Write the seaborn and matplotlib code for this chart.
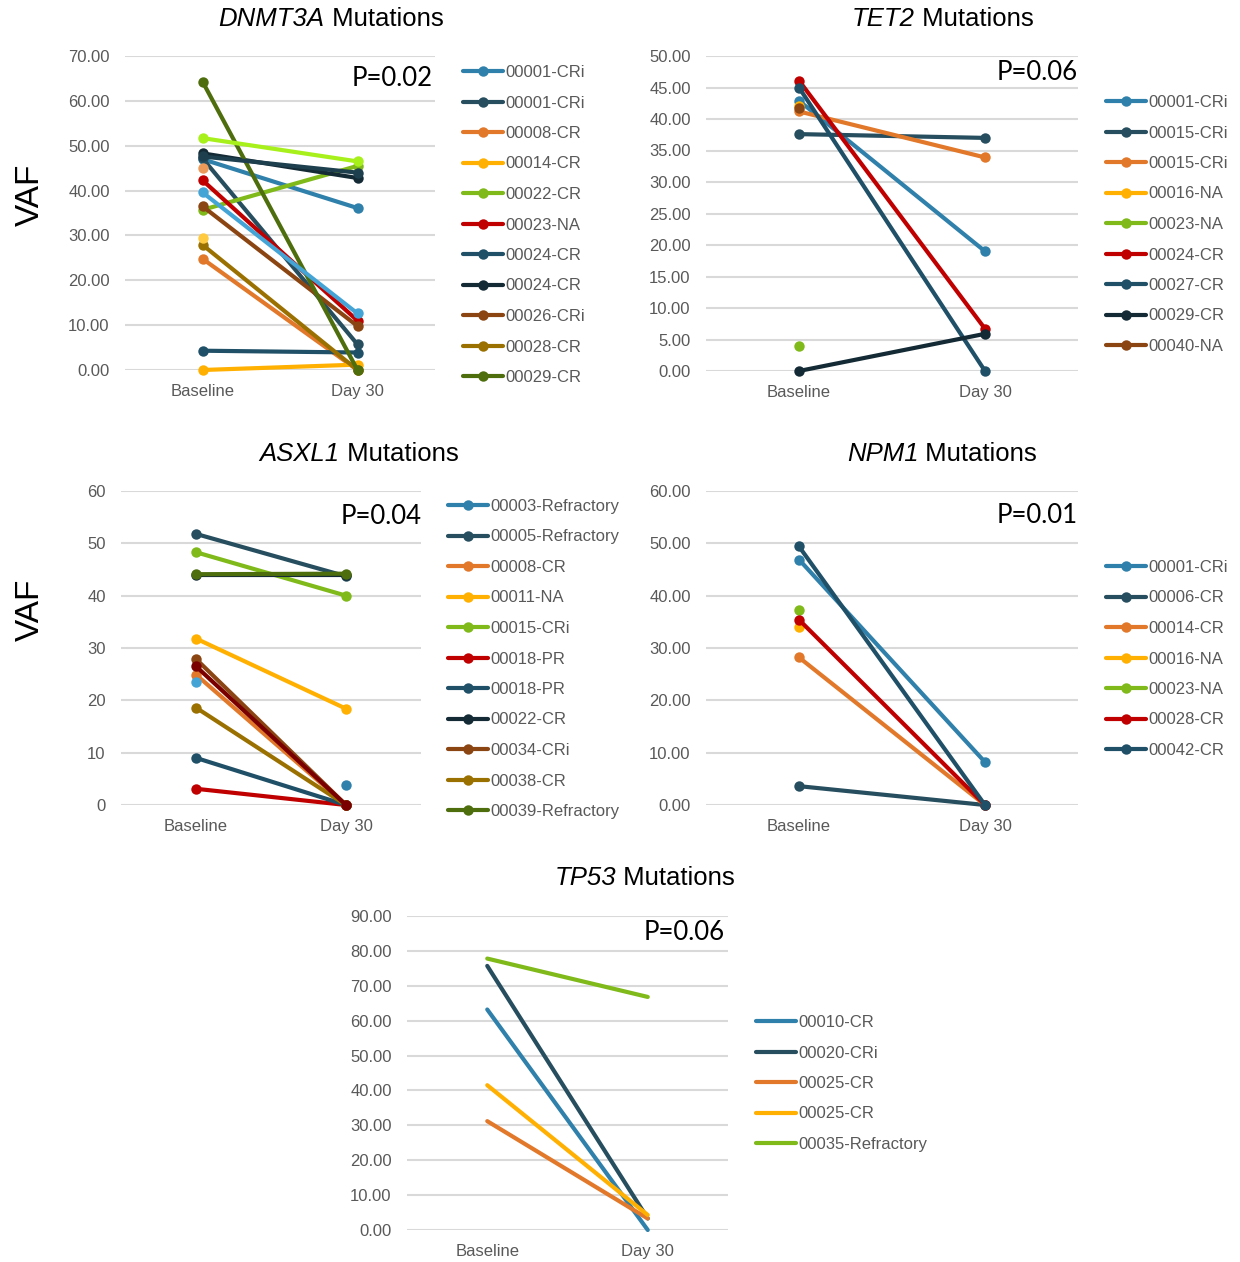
import numpy as np
import pandas as pd
import matplotlib
matplotlib.use("Agg")
import matplotlib.pyplot as plt
import seaborn as sns

# ---------------- data ----------------
categories = ["Baseline", "Day 30"]

dnmt3a_labels = ["00001-CRi", "00001-CRi", "00008-CR", "00014-CR", "00022-CR", "00023-NA",
                 "00024-CR", "00024-CR", "00026-CRi", "00028-CR", "00029-CR",
                 "_x1", "_x2", "_x3", "_x4", "_x5"]
dnmt3a_base = [47.0, 47.2, 24.8, 0.0, 35.7, 42.3, 4.3, 48.3, 36.5, 27.9, 64.3,
               51.7, 45.0, 39.6, 29.4, 47.6]
dnmt3a_day30 = [36.1, 5.7, 0.0, 1.2, 45.5, 11.0, 3.9, 42.8, 9.8, 0.0, 0.0,
                46.5, np.nan, 12.6, np.nan, 44.0]

tet2_labels = ["00001-CRi", "00015-CRi", "00015-CRi", "00016-NA", "00023-NA", "00024-CR",
               "00027-CR", "00029-CR", "00040-NA"]
tet2_base = [42.9, 37.6, 41.2, 42.0, 3.9, 46.1, 45.0, 0.0, 41.7]
tet2_day30 = [19.0, 37.0, 33.9, np.nan, np.nan, 6.7, 0.0, 5.9, np.nan]

asxl1_labels = ["00003-Refractory", "00005-Refractory", "00008-CR", "00011-NA", "00015-CRi",
                "00018-PR", "00018-PR", "00022-CR", "00034-CRi", "00038-CR", "00039-Refractory",
                "_x1", "_x2"]
asxl1_base = [np.nan, 51.8, 24.9, 31.8, 48.3, 3.1, 9.0, 44.0, 27.9, 18.6, 44.1, 23.5, 26.5]
asxl1_day30 = [3.8, 43.7, 0.0, 18.4, 40.0, 0.0, 0.0, 44.0, 0.0, 0.0, 44.2, np.nan, 0.0]

npm1_labels = ["00001-CRi", "00006-CR", "00014-CR", "00016-NA", "00023-NA", "00028-CR", "00042-CR"]
npm1_base = [46.9, 3.6, 28.2, 34.0, 37.3, 35.4, 49.4]
npm1_day30 = [8.2, 0.0, 0.0, np.nan, np.nan, 0.0, 0.0]

tp53_labels = ["00010-CR", "00020-CRi", "00025-CR", "00025-CR", "00035-Refractory"]
tp53_base = [63.2, 75.7, 31.2, 41.5, 77.8]
tp53_day30 = [0.0, 3.3, 3.3, 4.3, 66.8]

# ---------------- colours ----------------
BLUE = "#2F80AA"; DSLATE = "#264E5F"; ORANGE = "#E2782A"; YELLOW = "#FFB000"
GREEN = "#7FBA1A"; RED = "#C00000"; DTEAL = "#1F5068"; NBLACK = "#142A35"
BROWN = "#8B4513"; GOLD = "#9A7000"; DGREEN = "#4E6E0E"
LIME = "#A8F01C"; LORANGE = "#EC9A5A"; LBLUE = "#45A4D6"; LYELLOW = "#FFCA40"; DRED = "#7A0000"
DTEAL2 = "#1D3F4E"

base_cycle = [BLUE, DSLATE, ORANGE, YELLOW, GREEN, RED, DTEAL, NBLACK, BROWN, GOLD, DGREEN]
dnmt3a_colors = base_cycle + [LIME, LORANGE, LBLUE, LYELLOW, DTEAL2]
tet2_colors = [BLUE, DSLATE, ORANGE, YELLOW, GREEN, RED, DTEAL, NBLACK, BROWN]
asxl1_colors = base_cycle + [LBLUE, DRED]
npm1_colors = [BLUE, DSLATE, ORANGE, YELLOW, GREEN, RED, DTEAL]
tp53_colors = [BLUE, DSLATE, ORANGE, YELLOW, GREEN]

# ---------------- figure ----------------
sns.set_style("white")
plt.rcParams["font.family"] = ["Liberation Sans", "DejaVu Sans"]

W, H = 1240, 1262
fig = plt.figure(figsize=(W / 100, H / 100), dpi=100)

TICK_COLOR = "#595959"
GRID_COLOR = "#D9D9D9"


def add_axes_px(left, right, y0, ytop):
    return fig.add_axes([left / W, 1 - y0 / H, (right - left) / W, (y0 - ytop) / H])


def draw_panel(ax, labels, base, day30, colors, ymax, ystep, fmt, markers=True):
    for lab, b, d, c in zip(labels, base, day30, colors):
        df = pd.DataFrame({"time": categories, "VAF": [b, d]})
        sns.lineplot(data=df, x="time", y="VAF", ax=ax, color=c, lw=3.0,
                     marker="o" if markers else None, markersize=7.5,
                     markeredgewidth=0, label=lab, sort=False)
    for ln in ax.lines:
        ln.set_clip_on(False)
    ax.set_xlim(-0.5, 1.5)
    ax.set_ylim(0, ymax)
    ax.set_yticks(np.arange(0, ymax + ystep / 2, ystep))
    ax.set_yticklabels([fmt.format(v) for v in np.arange(0, ymax + ystep / 2, ystep)])
    ax.set_xticks([0, 1])
    ax.set_xticklabels(categories)
    ax.grid(axis="y", color=GRID_COLOR, lw=1.5, zorder=0)
    ax.set_axisbelow(True)
    for s in ax.spines.values():
        s.set_visible(False)
    ax.tick_params(axis="y", length=0, pad=11, labelsize=12, labelcolor=TICK_COLOR)
    ax.tick_params(axis="x", length=0, pad=10, labelsize=12, labelcolor=TICK_COLOR)
    ax.set_xlabel("")
    ax.set_ylabel("")
    leg = ax.get_legend()
    if leg is not None:
        leg.remove()


def add_legend(ax, xpx, ypx_first):
    handles, labs = ax.get_legend_handles_labels()
    fig.legend(handles, labs, loc="upper left",
               bbox_to_anchor=(xpx / W, 1 - (ypx_first - 6) / H),
               frameon=False, fontsize=12, labelcolor=TICK_COLOR,
               handlelength=2.4, handletextpad=0.15, labelspacing=0.93,
               borderpad=0, borderaxespad=0)


# panels
ax1 = add_axes_px(125, 435, 370, 56)
draw_panel(ax1, dnmt3a_labels, dnmt3a_base, dnmt3a_day30, dnmt3a_colors, 70, 10, "{:.2f}")
add_legend(ax1, 463, 71)

ax2 = add_axes_px(706, 1078, 371, 56)
draw_panel(ax2, tet2_labels, tet2_base, tet2_day30, tet2_colors, 50, 5, "{:.2f}")
add_legend(ax2, 1106, 101)

ax3 = add_axes_px(121, 421, 805, 491)
draw_panel(ax3, asxl1_labels, asxl1_base, asxl1_day30, asxl1_colors, 60, 10, "{:.0f}")
add_legend(ax3, 448, 505)

ax4 = add_axes_px(706, 1078, 805, 491)
draw_panel(ax4, npm1_labels, npm1_base, npm1_day30, npm1_colors, 60, 10, "{:.2f}")
add_legend(ax4, 1106, 566)

ax5 = add_axes_px(407, 728, 1230, 916)
draw_panel(ax5, tp53_labels, tp53_base, tp53_day30, tp53_colors, 90, 10, "{:.2f}", markers=False)
add_legend(ax5, 756, 1021)

# titles with italic gene names
renderer = fig.canvas.get_renderer()


def mixed_title(xc, yc, gene, rest, size=18.5):
    t1 = fig.text(0, 1 - yc / H, gene, style="italic", fontsize=size, ha="left", va="center",
                  color="#000000")
    t2 = fig.text(0, 1 - yc / H, " " + rest, fontsize=size, ha="left", va="center",
                  color="#000000")
    w1 = t1.get_window_extent(renderer).width
    w2 = t2.get_window_extent(renderer).width
    left = xc - (w1 + w2) / 2
    t1.set_x(left / W)
    t2.set_x((left + w1) / W)


mixed_title(331, 19, "DNMT3A", "Mutations")
mixed_title(943, 19, "TET2", "Mutations")
mixed_title(359, 454, "ASXL1", "Mutations")
mixed_title(942, 454, "NPM1", "Mutations")
mixed_title(645, 878, "TP53", "Mutations")

# p-values
PFONT = ["Lato", "DejaVu Sans"]
for xr, yc, txt in [(433, 79, "P=0.02"), (1078, 73, "P=0.06"), (422, 517, "P=0.04"),
                    (1078, 516, "P=0.01"), (725, 933, "P=0.06")]:
    fig.text(xr / W, 1 - yc / H, txt, ha="right", va="center", fontsize=18.5,
             family=PFONT, color="#000000")

# VAF labels
for yc in (195, 610):
    fig.text(30 / W, 1 - yc / H, "VAF", rotation=90, ha="center", va="center",
             fontsize=24, color="#000000")

fig.savefig("out.png", dpi=100)
